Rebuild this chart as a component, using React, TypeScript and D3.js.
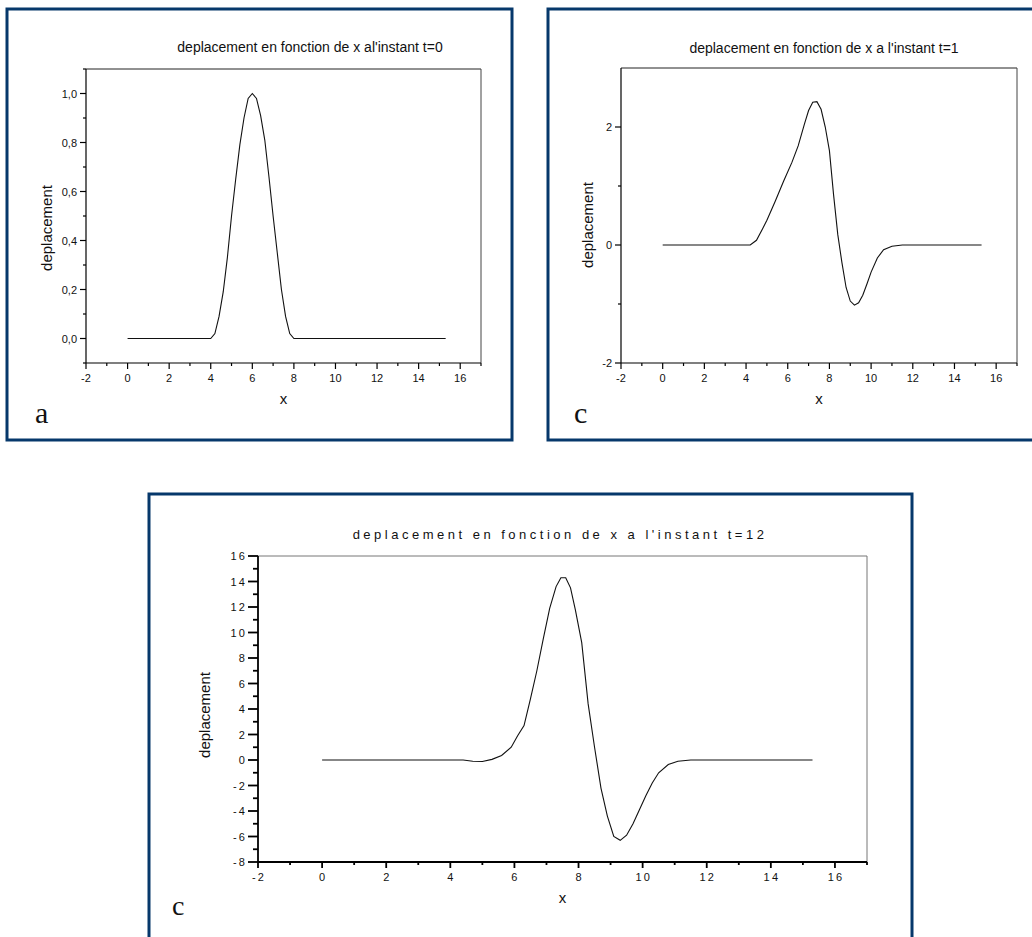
import React from 'react';
import * as d3 from 'd3';

// deplacement at t=0
const xT0 = [0, 4.0, 4.2, 4.4, 4.6, 4.8, 5.0, 5.2, 5.4, 5.6, 5.8, 6.0, 6.2, 6.4, 6.6, 6.8, 7.0, 7.2, 7.4, 7.6, 7.8, 8.0, 15.3];
const depT0 = [0, 0, 0.02, 0.09, 0.19, 0.33, 0.5, 0.65, 0.79, 0.9, 0.98, 1.0, 0.98, 0.91, 0.81, 0.66, 0.5, 0.35, 0.2, 0.09, 0.02, 0, 0];

// deplacement at t=1
const xT1 = [0, 4.2, 4.5, 4.8, 5.0, 5.4, 5.8, 6.2, 6.5, 6.8, 7.0, 7.2, 7.4, 7.6, 7.8, 8.0, 8.2, 8.4, 8.6, 8.8, 9.0, 9.2, 9.4, 9.6, 9.8, 10.0, 10.3, 10.6, 11.0, 11.5, 15.3];
const depT1 = [0, 0, 0.08, 0.28, 0.42, 0.74, 1.08, 1.4, 1.68, 2.05, 2.28, 2.42, 2.43, 2.3, 2.0, 1.6, 0.85, 0.18, -0.3, -0.72, -0.95, -1.02, -0.98, -0.85, -0.66, -0.46, -0.22, -0.08, -0.02, 0, 0];

// deplacement at t=12
const xT12 = [0, 4.4, 4.7, 5.0, 5.3, 5.6, 5.9, 6.1, 6.3, 6.5, 6.7, 6.9, 7.1, 7.3, 7.45, 7.6, 7.75, 7.9, 8.1, 8.3, 8.5, 8.7, 8.9, 9.1, 9.3, 9.5, 9.7, 9.9, 10.1, 10.3, 10.5, 10.8, 11.1, 11.5, 15.3];
const depT12 = [0, 0, -0.1, -0.12, 0.05, 0.35, 1.0, 1.9, 2.7, 4.8, 7.0, 9.5, 11.9, 13.6, 14.3, 14.3, 13.5, 11.8, 9.2, 4.4, 1.0, -2.2, -4.4, -6.0, -6.3, -5.9, -5.0, -3.9, -2.8, -1.8, -1.0, -0.35, -0.1, 0, 0];

// tick labels
const xMajor = [-2, 0, 2, 4, 6, 8, 10, 12, 14, 16];
const xMinor = [-1, 1, 3, 5, 7, 9, 11, 13, 15, 17];
const yMajorT0 = [0, 0.2, 0.4, 0.6, 0.8, 1.0];
const yMinorT0 = [-0.1, 0.1, 0.3, 0.5, 0.7, 0.9, 1.1];
const yMajorT1 = [-2, 0, 2];
const yMinorT1 = [-1, 1];
const yMajorT12 = [-8, -6, -4, -2, 0, 2, 4, 6, 8, 10, 12, 14, 16];
const yMinorT12 = [-7, -5, -3, -1, 1, 3, 5, 7, 9, 11, 13, 15];

const NAVY = '#06386b';
const SANS = '"Liberation Sans", Arial, sans-serif';

const commaFmt = d3.formatLocale({ decimal: ',', thousands: ' ', grouping: [3], currency: ['', ''], minus: '-' }).format('.1f');
const intFmt = (d: number) => String(d);

function Panel(p: any) {
  const x = d3.scaleLinear().domain([-2, 17]).range([p.left, p.right]);
  const y = d3.scaleLinear().domain(p.yDomain).range([p.bottom, p.top]);
  const path = d3.line<number>().x((d, i) => x(p.xs[i])).y(d => y(d))(p.ys) || '';
  const yFmt = p.yFmt || intFmt;
  const ls = p.spaced ? 2.2 : 0;
  return (
    <g>
      <rect x={p.frame[0]} y={p.frame[1]} width={p.frame[2]} height={p.frame[3]} fill="none" stroke={NAVY} strokeWidth={3} />
      <text x={p.titleX} y={p.titleY} textAnchor="middle" fontSize={p.titleSize || 14} fontFamily={SANS} letterSpacing={p.titleSpacing || 0} fill="#111">{p.title}</text>
      {/* frame of the plot */}
      <line x1={p.left} x2={p.right} y1={p.top} y2={p.top} stroke={p.spaced ? '#777' : '#222'} strokeWidth={1} />
      <line x1={p.right} x2={p.right} y1={p.top} y2={p.bottom} stroke={p.spaced ? '#777' : '#444'} strokeWidth={1} />
      <line x1={p.left} x2={p.right} y1={p.bottom} y2={p.bottom} stroke="#000" strokeWidth={p.axisW} />
      <line x1={p.left} x2={p.left} y1={p.top} y2={p.bottom} stroke="#000" strokeWidth={p.axisW} />
      {xMajor.map(d => (
        <g key={'xm' + d}>
          <line x1={x(d)} x2={x(d)} y1={p.bottom} y2={p.bottom + 6} stroke="#000" strokeWidth={p.axisW} />
          <text x={x(d) + ls / 2} y={p.bottom + 19} textAnchor="middle" fontSize={11} fontFamily={SANS} letterSpacing={ls} fill="#111">{intFmt(d)}</text>
        </g>
      ))}
      {xMinor.map(d => (
        <line key={'xn' + d} x1={x(d)} x2={x(d)} y1={p.bottom} y2={p.bottom + 3} stroke="#000" strokeWidth={p.axisW} />
      ))}
      {p.yMajor.map((d: number) => (
        <g key={'ym' + d}>
          <line x1={p.left - p.yTick} x2={p.left} y1={y(d)} y2={y(d)} stroke="#000" strokeWidth={p.axisW} />
          <text x={p.left - p.yTick - 3 + ls} y={y(d) + 4} textAnchor="end" fontSize={11} fontFamily={SANS} letterSpacing={ls} fill="#111">{yFmt(d)}</text>
        </g>
      ))}
      {p.yMinor.map((d: number) => (
        <line key={'yn' + d} x1={p.left - p.yTick / 2} x2={p.left} y1={y(d)} y2={y(d)} stroke="#000" strokeWidth={p.axisW} />
      ))}
      <path d={path} fill="none" stroke="#111" strokeWidth={1.1} />
      <text transform={`translate(${p.yLabelX},${p.yLabelY}) rotate(-90)`} textAnchor="middle" fontSize={15} fontFamily={SANS} fill="#111">deplacement</text>
      <text x={(p.left + p.right) / 2} y={p.bottom + 41} textAnchor="middle" fontSize={15} fontFamily={SANS} fill="#111">x</text>
      <text x={p.letterX} y={p.letterY} fontSize={p.letterSize} fontFamily='"Liberation Serif", "Times New Roman", serif' fill="#111">{p.letter}</text>
    </g>
  );
}

export default function App() {
  return (
    <svg width={1032} height={937} style={{ position: 'absolute', left: 0, top: 0, background: '#fff' }}>
      <Panel
        frame={[7, 9, 505, 431]} left={86} right={481} top={69} bottom={363}
        yDomain={[-0.1, 1.1]} yMajor={yMajorT0} yMinor={yMinorT0} yFmt={commaFmt}
        xs={xT0} ys={depT0} axisW={1.2} yTick={6}
        title="deplacement en fonction de x al'instant t=0" titleX={310} titleY={52}
        yLabelX={52} yLabelY={228} letter="a" letterX={35} letterY={423} letterSize={30}
      />
      <Panel
        frame={[548, 9, 520, 431]} left={621} right={1017} top={68} bottom={363}
        yDomain={[-2, 3]} yMajor={yMajorT1} yMinor={yMinorT1}
        xs={xT1} ys={depT1} axisW={1.2} yTick={6}
        title="deplacement en fonction de x a l'instant t=1" titleX={824} titleY={53}
        yLabelX={593} yLabelY={225} letter="c" letterX={574} letterY={423} letterSize={30}
      />
      <Panel
        frame={[149, 494, 763, 500]} left={258} right={867} top={556} bottom={862}
        yDomain={[-8, 16]} yMajor={yMajorT12} yMinor={yMinorT12} spaced
        xs={xT12} ys={depT12} axisW={1.8} yTick={10}
        title="deplacement en fonction de x a l'instant t=12" titleX={560} titleY={539} titleSize={13} titleSpacing={3.5}
        yLabelX={210} yLabelY={715} letter="c" letterX={172} letterY={915} letterSize={28}
      />
    </svg>
  );
}
